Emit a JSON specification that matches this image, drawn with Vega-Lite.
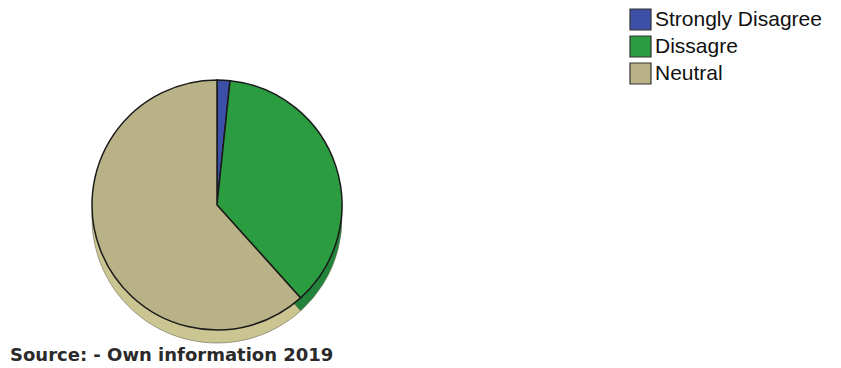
{
  "$schema": "https://vega.github.io/schema/vega-lite/v6.json",
  "autosize": {"type": "none"},
  "width": 434,
  "height": 290,
  "padding": {"left": 0, "top": 60, "right": 407, "bottom": 18},
  "background": "white",
  "title": {
    "text": "Source: - Own information 2019",
    "orient": "bottom",
    "anchor": "start",
    "font": "DejaVu Sans",
    "fontSize": 18,
    "fontWeight": "bold",
    "color": "#2a2a2a",
    "dx": 10,
    "offset": -3,
    "baseline": "top"
  },
  "data": {
    "values": [
      {"category": "Strongly Disagree", "value": 1, "order": 1},
      {"category": "Dissagre", "value": 22, "order": 2},
      {"category": "Neutral", "value": 37, "order": 3}
    ]
  },
  "layer": [
    {
      "mark": {"type": "arc", "outerRadius": 125, "yOffset": 13, "stroke": "#6b6850", "strokeWidth": 0.6},
      "encoding": {
        "theta": {"field": "value", "type": "quantitative", "stack": true},
        "order": {"field": "order", "type": "quantitative"},
        "color": {
          "field": "category",
          "type": "nominal",
          "scale": {"domain": ["Strongly Disagree", "Dissagre", "Neutral"], "range": ["#2c3d80", "#22843a", "#cbc592"]},
          "legend": null
        }
      }
    },
    {
      "mark": {"type": "arc", "outerRadius": 125, "stroke": "#1a1a1a", "strokeWidth": 1.5},
      "encoding": {
        "theta": {"field": "value", "type": "quantitative", "stack": true},
        "order": {"field": "order", "type": "quantitative"},
        "color": {
          "field": "category",
          "type": "nominal",
          "scale": {"domain": ["Strongly Disagree", "Dissagre", "Neutral"], "range": ["#3b50a6", "#2c9c40", "#b8b286"]},
          "legend": {
            "title": null,
            "orient": "none",
            "legendX": 629,
            "legendY": -52,
            "symbolType": "square",
            "symbolSize": 441,
            "symbolStrokeColor": "#333333",
            "symbolStrokeWidth": 1.2,
            "labelFont": "Liberation Sans",
            "labelFontSize": 21,
            "labelColor": "#111111",
            "labelOffset": 3,
            "labelLimit": 400,
            "rowPadding": 0
          }
        }
      }
    }
  ],
  "resolve": {"scale": {"color": "independent"}},
  "config": {"view": {"stroke": null}}
}
